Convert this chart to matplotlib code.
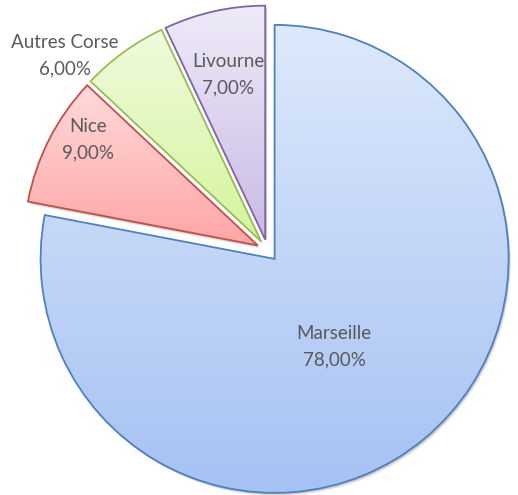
import matplotlib
matplotlib.use("Agg")
import matplotlib.pyplot as plt
import numpy as np
from matplotlib.colors import LinearSegmentedColormap
from matplotlib.patches import Wedge

# data
labels = ["Marseille", "Nice", "Autres Corse", "Livourne"]
shares = [78.0, 9.0, 6.0, 7.0]
pct_text = ["78,00%", "9,00%", "6,00%", "7,00%"]

# style
edge_colors = ["#4F81BD", "#C0504D", "#9BBB59", "#8064A2"]
top_colors = ["#DDE9FC", "#FFDADA", "#EFFBDC", "#EFEBF8"]
bottom_colors = ["#A6C1F3", "#FFA5A5", "#D4F49C", "#C9BAE5"]
label_pos = [(334, 347), (88, 140), (65, 56), (228, 75)]

W, H = 518, 495
CENTER = (267.6, H - 250.4)
RADIUS = 234
EXPLODE = 11

fig = plt.figure(figsize=(W / 100, H / 100), dpi=100)
ax = fig.add_axes([0, 0, 1, 1])
ax.set_xlim(0, W)
ax.set_ylim(0, H)
ax.set_aspect("equal")
ax.axis("off")

wedges, _ = ax.pie(
    shares,
    center=CENTER,
    radius=RADIUS,
    startangle=90,
    counterclock=False,
    explode=[EXPLODE] * len(shares),
    wedgeprops=dict(linewidth=1.3),
    frame=False,
)

for i, w in enumerate(wedges):
    w.set_facecolor("none")
    w.set_edgecolor(edge_colors[i])
    w.set_zorder(4)
    # soft shadow
    for k, a in [(4, 0.06), (3, 0.08), (2, 0.10)]:
        sh = Wedge((w.center[0] + k * 0.6, w.center[1] - k * 0.8), w.r,
                   w.theta1, w.theta2, facecolor="#000000", edgecolor="none",
                   alpha=a, zorder=1)
        ax.add_patch(sh)
    # white base to hide shadow under fill
    base = Wedge(w.center, w.r, w.theta1, w.theta2, facecolor="white",
                 edgecolor="none", zorder=2)
    ax.add_patch(base)
    # vertical gradient clipped to the wedge
    bb = w.get_path().get_extents(w.get_patch_transform())
    cmap = LinearSegmentedColormap.from_list(
        f"g{i}", [bottom_colors[i], top_colors[i]])
    grad = np.linspace(0, 1, 256).reshape(-1, 1)
    im = ax.imshow(grad, cmap=cmap, origin="lower", aspect="auto",
                   extent=[bb.x0, bb.x1, bb.y0, bb.y1], zorder=3,
                   interpolation="bilinear")
    clip = Wedge(w.center, w.r, w.theta1, w.theta2, transform=ax.transData)
    im.set_clip_path(clip)

for i, (x, y) in enumerate(label_pos):
    ax.text(x, H - y, f"{labels[i]}\n{pct_text[i]}", ha="center", va="center",
            fontsize=13.5, color="#595959", family=["Lato", "DejaVu Sans"],
            linespacing=1.65, zorder=5)

ax.set_xlim(0, W)
ax.set_ylim(0, H)
fig.savefig("out.png", dpi=100, facecolor="white")
